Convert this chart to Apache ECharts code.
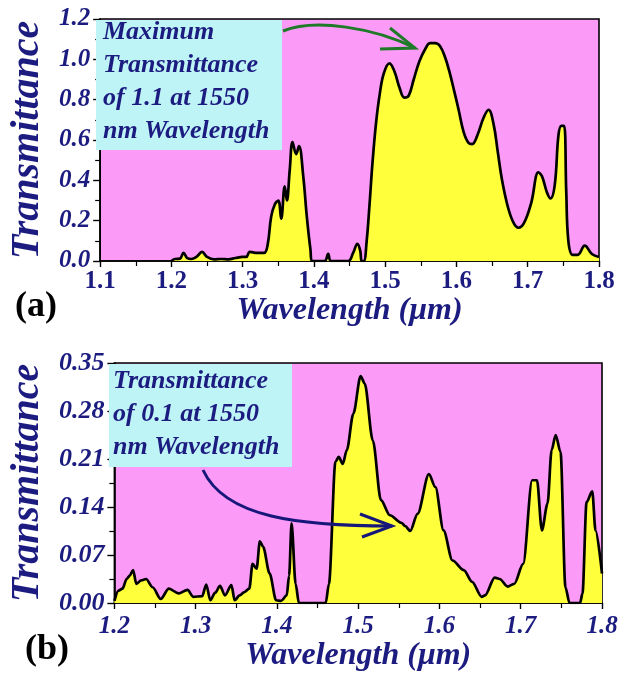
<!DOCTYPE html>
<html>
<head>
<meta charset="utf-8">
<script src="https://cdn.jsdelivr.net/npm/echarts@6/dist/echarts.min.js"></script>
<style>
  html, body { margin: 0; padding: 0; background: #ffffff; }
  #chart { width: 629px; height: 674px; }
</style>
</head>
<body>
<div id="chart"></div>
<script>
// Panel (a): transmittance spectrum, wavelength in µm
const wavelengthA = [
  1.200, 1.205, 1.212, 1.217, 1.222, 1.228, 1.235, 1.243, 1.250, 1.260,
  1.270, 1.280, 1.290, 1.300, 1.305, 1.310, 1.320, 1.330, 1.335, 1.340,
  1.345, 1.350, 1.354, 1.359, 1.362, 1.366, 1.370, 1.375, 1.379, 1.385,
  1.390, 1.395, 1.398, 1.415, 1.420, 1.424, 1.448, 1.455, 1.461, 1.465,
  1.467, 1.470, 1.474, 1.478, 1.482, 1.487, 1.492, 1.498, 1.506, 1.513,
  1.520, 1.527, 1.533, 1.540, 1.548, 1.556, 1.563, 1.570, 1.577, 1.584,
  1.590, 1.597, 1.603, 1.610, 1.617, 1.622, 1.630, 1.638, 1.645, 1.652,
  1.658, 1.664, 1.672, 1.680, 1.687, 1.695, 1.705, 1.715, 1.720, 1.727,
  1.732, 1.738, 1.743, 1.747, 1.751, 1.754, 1.757, 1.763, 1.770, 1.780,
  1.790, 1.800
];
const transmittanceA = [
  0.000, 0.010, 0.012, 0.040, 0.015, 0.010, 0.020, 0.045, 0.020, 0.008,
  0.010, 0.008, 0.015, 0.020, 0.020, 0.045, 0.040, 0.040, 0.080, 0.220,
  0.280, 0.300, 0.210, 0.370, 0.300, 0.450, 0.590, 0.530, 0.570, 0.420,
  0.220, 0.060, 0.000, 0.000, 0.035, 0.000, 0.000, 0.040, 0.085, 0.050,
  0.000, 0.000, 0.100, 0.280, 0.480, 0.680, 0.820, 0.930, 0.980, 0.940,
  0.860, 0.810, 0.820, 0.900, 0.990, 1.050, 1.080, 1.080, 1.065, 1.010,
  0.940, 0.840, 0.750, 0.640, 0.585, 0.580, 0.630, 0.710, 0.750, 0.680,
  0.540, 0.400, 0.270, 0.190, 0.165, 0.190, 0.290, 0.440, 0.420, 0.340,
  0.310, 0.380, 0.620, 0.670, 0.670, 0.350, 0.100, 0.030, 0.030, 0.076,
  0.035, 0.020
];

// Panel (b)
const wavelengthB = [
  1.200, 1.205, 1.210, 1.215, 1.219, 1.223, 1.227, 1.233, 1.239, 1.247,
  1.257, 1.267, 1.279, 1.290, 1.297, 1.308, 1.313, 1.318, 1.324, 1.330,
  1.336, 1.344, 1.348, 1.354, 1.360, 1.366, 1.370, 1.375, 1.379, 1.383,
  1.391, 1.399, 1.405, 1.412, 1.415, 1.418, 1.423, 1.427, 1.460, 1.464,
  1.472, 1.476, 1.481, 1.486, 1.494, 1.503, 1.508, 1.518, 1.528, 1.539,
  1.553, 1.558, 1.564, 1.573, 1.587, 1.595, 1.605, 1.616, 1.630, 1.640,
  1.652, 1.656, 1.668, 1.674, 1.684, 1.692, 1.703, 1.714, 1.720, 1.726,
  1.733, 1.738, 1.743, 1.749, 1.755, 1.760, 1.773, 1.776, 1.781, 1.788,
  1.792, 1.800
];
const transmittanceB = [
  0.003, 0.018, 0.021, 0.035, 0.040, 0.048, 0.028, 0.033, 0.035, 0.023,
  0.006, 0.021, 0.014, 0.019, 0.009, 0.010, 0.027, 0.004, 0.015, 0.025,
  0.011, 0.026, 0.004, 0.011, 0.016, 0.021, 0.057, 0.050, 0.090, 0.082,
  0.043, 0.004, 0.003, 0.011, 0.040, 0.116, 0.028, 0.000, 0.000, 0.028,
  0.206, 0.213, 0.203, 0.223, 0.276, 0.331, 0.320, 0.237, 0.150, 0.128,
  0.117, 0.112, 0.105, 0.130, 0.188, 0.169, 0.106, 0.062, 0.048, 0.031,
  0.009, 0.011, 0.037, 0.035, 0.024, 0.028, 0.057, 0.179, 0.179, 0.106,
  0.145, 0.223, 0.245, 0.220, 0.023, 0.000, 0.000, 0.014, 0.147, 0.163,
  0.106, 0.043
];

const ticksYA = [0, 0.2, 0.4, 0.6, 0.8, 1.0, 1.2];
const ticksYB = [0, 0.07, 0.14, 0.21, 0.28, 0.35];

const NAVY = '#1b1b80';
const SERIF = '"Liberation Serif", "Times New Roman", serif';
const PINK = '#fb9bf7';
const YELLOW = '#ffff3c';
const CYAN = '#bff4f6';

const chart = echarts.init(document.getElementById('chart'), null, { renderer: 'canvas' });

function xAxisCfg(grid, min, max, italicLabels, nameGap) {
  return {
    type: 'value', gridIndex: grid, min: min, max: max, interval: 0.1,
    name: 'Wavelength (\u03bcm)', nameLocation: 'middle', nameGap: nameGap,
    nameTextStyle: { fontFamily: SERIF, fontStyle: 'italic', fontWeight: 'bold', fontSize: 32, color: NAVY },
    axisLine: { lineStyle: { color: '#000', width: 1.6 } },
    axisTick: { length: 6, lineStyle: { color: '#000', width: 1.4 } },
    minorTick: { show: true, splitNumber: 2, length: 5, lineStyle: { color: '#000', width: 1.2 } },
    splitLine: { show: false },
    axisLabel: {
      margin: italicLabels ? 11 : 8,
      fontFamily: SERIF, fontWeight: 'bold', fontStyle: italicLabels ? 'italic' : 'normal',
      fontSize: 25, color: NAVY,
      formatter: v => v.toFixed(1)
    }
  };
}

function yAxisCfg(grid, ticks, digits, nameGap, labelSize) {
  return {
    type: 'value', gridIndex: grid, min: ticks[0], max: ticks[ticks.length - 1],
    interval: ticks[1] - ticks[0],
    name: 'Transmittance', nameLocation: 'middle', nameGap: nameGap, nameRotate: 90,
    nameTextStyle: { fontFamily: SERIF, fontStyle: 'italic', fontWeight: 'bold', fontSize: 40, color: NAVY },
    axisLine: { show: true, lineStyle: { color: '#000', width: 1.6 } },
    axisTick: { show: true, length: 7, lineStyle: { color: '#000', width: 1.4 } },
    minorTick: { show: true, splitNumber: 2, length: 5, lineStyle: { color: '#000', width: 1.2 } },
    splitLine: { show: false },
    axisLabel: {
      margin: 10,
      fontFamily: SERIF, fontWeight: 'bold', fontStyle: 'italic', fontSize: labelSize, color: NAVY,
      formatter: v => v.toFixed(digits)
    }
  };
}

function spectrum(xIdx, xs, ys, smooth, monotone) {
  return {
    type: 'line', xAxisIndex: xIdx, yAxisIndex: xIdx,
    data: xs.map((x, i) => [x, ys[i]]),
    showSymbol: false, symbol: 'none', smooth: smooth, smoothMonotone: monotone,
    lineStyle: { color: '#000', width: 2.7 },
    areaStyle: { color: YELLOW, opacity: 1, origin: 'start' },
    silent: true, z: 3
  };
}

function noteText(lines, x, y0, step) {
  return lines.map((t, i) => ({
    type: 'text', z: 20,
    style: {
      text: t, x: x, y: y0 + i * step,
      font: 'italic bold 26px ' + SERIF, fill: NAVY,
      verticalAlign: 'bottom', align: 'left'
    }
  }));
}

const option = {
  backgroundColor: '#ffffff',
  animation: false,
  grid: [
    { left: 95, right: 30, top: 19, height: 242, show: true, backgroundColor: PINK, borderColor: '#000', borderWidth: 1.6 },
    { left: 108, right: 27, top: 363, height: 240, show: true, backgroundColor: PINK, borderColor: '#000', borderWidth: 1.6 }
  ],
  xAxis: [ xAxisCfg(0, 1.1, 1.8, false, 28), xAxisCfg(1, 1.2, 1.8, true, 36) ],
  yAxis: [ yAxisCfg(0, ticksYA, 1, 47, 25), yAxisCfg(1, ticksYB, 2, 60, 26) ],
  series: [
    spectrum(0, wavelengthA, transmittanceA, 0.4, null),
    spectrum(1, wavelengthB, transmittanceB, 0.3, 'x')
  ],
  graphic: [
    // callout box, panel (a)
    { type: 'rect', z: 15, shape: { x: 96, y: 20, width: 186, height: 130 }, style: { fill: CYAN } },
    ...noteText(['Maximum', 'Transmittance', 'of 1.1 at 1550', 'nm Wavelength'], 103, 45, 33),
    // green arrow toward the main peak
    { type: 'bezierCurve', z: 16,
      shape: { x1: 283, y1: 31, cpx1: 315, cpy1: 18, cpx2: 375, cpy2: 28, x2: 415, y2: 48 },
      style: { stroke: '#1e7a26', lineWidth: 3, fill: null } },
    { type: 'polyline', z: 16,
      shape: { points: [[390, 28], [415, 48], [380, 49]] },
      style: { stroke: '#1e7a26', lineWidth: 3, fill: null } },

    // callout box, panel (b)
    { type: 'rect', z: 15, shape: { x: 109, y: 364, width: 183, height: 103 }, style: { fill: CYAN } },
    ...noteText(['Transmittance', 'of 0.1 at 1550', 'nm Wavelength'], 113, 394, 33),
    // navy arrow toward 1550 nm
    { type: 'bezierCurve', z: 16,
      shape: { x1: 203, y1: 470, cpx1: 225, cpy1: 518, cpx2: 300, cpy2: 526, x2: 392, y2: 526 },
      style: { stroke: '#17177a', lineWidth: 3, fill: null } },
    { type: 'polyline', z: 16,
      shape: { points: [[360, 514], [392, 526], [362, 537]] },
      style: { stroke: '#17177a', lineWidth: 3, fill: null } },

    // panel letters
    { type: 'text', z: 20, style: { text: '(a)', x: 36, y: 307, font: 'bold 36px ' + SERIF, fill: '#000', align: 'center', verticalAlign: 'middle' } },
    { type: 'text', z: 20, style: { text: '(b)', x: 47, y: 650, font: 'bold 36px ' + SERIF, fill: '#000', align: 'center', verticalAlign: 'middle' } }
  ]
};

chart.setOption(option);
</script>
</body>
</html>
